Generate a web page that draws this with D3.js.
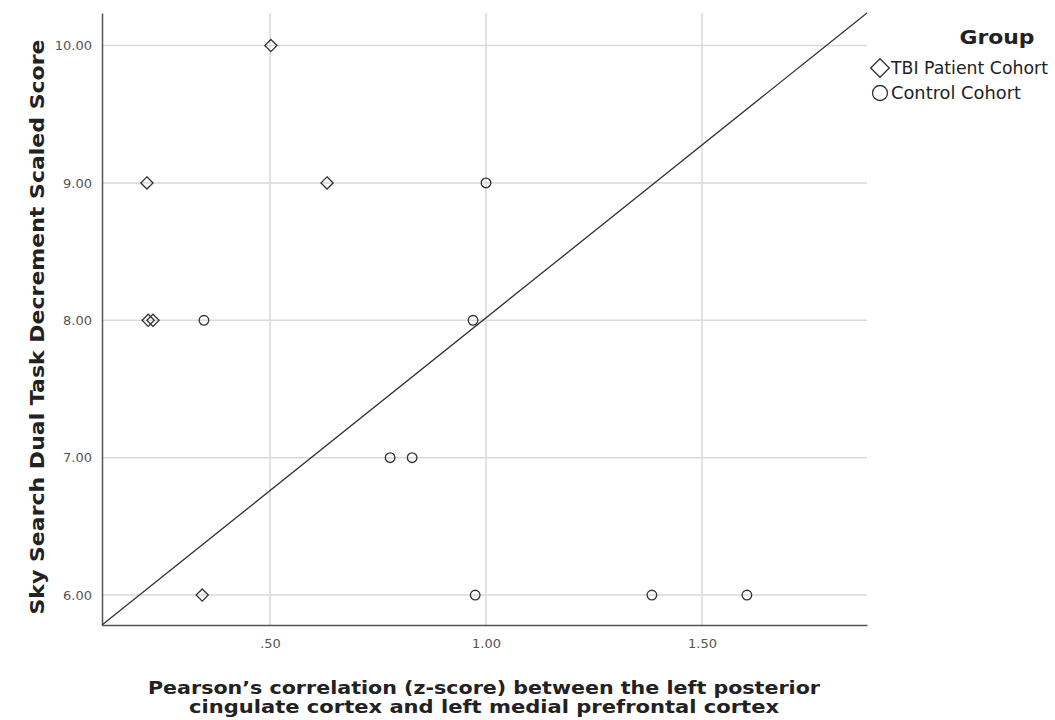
<!DOCTYPE html>
<html>
<head>
<meta charset="utf-8">
<script src="https://cdn.jsdelivr.net/npm/d3@7"></script>
<style>
  body { margin: 0; background: #fff; }
  svg { font-family: "DejaVu Sans", sans-serif; }
</style>
</head>
<body>
<svg id="chart" width="1055" height="720"></svg>
<script>
// data
const tbi_x = [0.502, 0.215, 0.632, 0.218, 0.229, 0.343];
const tbi_y = [10, 9, 9, 8, 8, 6];
const control_x = [1.0, 0.347, 0.97, 0.778, 0.829, 0.975, 1.384, 1.604];
const control_y = [9, 8, 8, 7, 7, 6, 6, 6];
const x_ticks = [0.5, 1.0, 1.5];
const y_ticks = [6, 7, 8, 9, 10];
const groups = ["TBI Patient Cohort", "Control Cohort"];

const x_domain = [0.111, 1.882];
const y_domain = [5.782, 10.237];

function get_scales() {
    const x = d3.scaleLinear().domain(x_domain).range([102, 867]);
    const y = d3.scaleLinear().domain(y_domain).range([625, 13]);
    return [x, y];
}

function draw_grid(svg, x, y) {
    const g = svg.append("g");
    g.selectAll(".vgrid")
        .data(x_ticks)
        .enter().append("line")
        .attr("x1", d => x(d)).attr("x2", d => x(d))
        .attr("y1", y.range()[1]).attr("y2", y.range()[0])
        .attr("stroke", "#d9d9d9").attr("stroke-width", 1.5);
    g.selectAll(".hgrid")
        .data(y_ticks)
        .enter().append("line")
        .attr("x1", x.range()[0]).attr("x2", x.range()[1])
        .attr("y1", d => y(d)).attr("y2", d => y(d))
        .attr("stroke", "#d9d9d9").attr("stroke-width", 1.5);
}

function draw_axes(svg, x, y) {
    const xAxis = svg.append("g")
        .attr("transform", `translate(0,${y.range()[0]})`)
        .call(d3.axisBottom(x).tickValues(x_ticks).tickSize(0).tickPadding(14)
            .tickFormat(d => d3.format(".2f")(d).replace(/^0/, "")));
    const yAxis = svg.append("g")
        .attr("transform", `translate(${x.range()[0]},0)`)
        .call(d3.axisLeft(y).tickValues(y_ticks).tickSize(0).tickPadding(10)
            .tickFormat(d3.format(".2f")));
    [xAxis, yAxis].forEach(a => {
        a.select(".domain").attr("stroke", "#555").attr("stroke-width", 1.5);
        a.selectAll("text")
            .attr("fill", "#555")
            .style("font-size", "13px")
            .style("font-family", "'DejaVu Sans', sans-serif");
    });
}

function draw_points(svg, x, y) {
    const diamond = d3.symbol().type(d3.symbolDiamond2).size(95);
    svg.append("g")
        .selectAll("path")
        .data(tbi_x.map((v, i) => [v, tbi_y[i]]))
        .enter().append("path")
        .attr("d", diamond)
        .attr("transform", d => `translate(${x(d[0])},${y(d[1])})`)
        .attr("fill", "none")
        .attr("stroke", "#333")
        .attr("stroke-width", 1.3);

    svg.append("g")
        .selectAll("circle")
        .data(control_x.map((v, i) => [v, control_y[i]]))
        .enter().append("circle")
        .attr("cx", d => x(d[0]))
        .attr("cy", d => y(d[1]))
        .attr("r", 4.8)
        .attr("fill", "none")
        .attr("stroke", "#333")
        .attr("stroke-width", 1.3);
}

function draw_reference_line(svg, x, y) {
    svg.append("line")
        .attr("x1", x(x_domain[0])).attr("y1", y(y_domain[0]))
        .attr("x2", x(x_domain[1])).attr("y2", y(y_domain[1]))
        .attr("stroke", "#333")
        .attr("stroke-width", 1.3);
}

function draw_titles(svg) {
    svg.append("text")
        .attr("transform", "translate(44,327) rotate(-90)")
        .attr("text-anchor", "middle")
        .attr("textLength", 575)
        .attr("lengthAdjust", "spacingAndGlyphs")
        .style("font-size", "19px")
        .style("font-weight", "bold")
        .attr("fill", "#222")
        .text("Sky Search Dual Task Decrement Scaled Score");

    const lines = [
        "Pearson\u2019s correlation (z-score) between the left posterior",
        "cingulate cortex and left medial prefrontal cortex"
    ];
    svg.selectAll(".xtitle")
        .data(lines)
        .enter().append("text")
        .attr("class", "xtitle")
        .attr("x", 484)
        .attr("y", (d, i) => 694 + i * 19)
        .attr("text-anchor", "middle")
        .attr("textLength", (d, i) => [672, 590][i])
        .attr("lengthAdjust", "spacingAndGlyphs")
        .style("font-size", "17px")
        .style("font-weight", "bold")
        .attr("fill", "#222")
        .text(d => d);
}

function draw_legend(svg) {
    svg.append("text")
        .attr("x", 997).attr("y", 44)
        .attr("text-anchor", "middle")
        .attr("textLength", 75)
        .attr("lengthAdjust", "spacingAndGlyphs")
        .style("font-size", "20px")
        .style("font-weight", "bold")
        .attr("fill", "#222")
        .text("Group");

    const g = svg.append("g");
    g.append("path")
        .attr("d", d3.symbol().type(d3.symbolDiamond2).size(220))
        .attr("transform", "translate(880,68)")
        .attr("fill", "none").attr("stroke", "#333").attr("stroke-width", 1.3);
    g.append("circle")
        .attr("cx", 880).attr("cy", 93).attr("r", 7.5)
        .attr("fill", "none").attr("stroke", "#333").attr("stroke-width", 1.3);

    g.selectAll("text")
        .data(groups)
        .enter().append("text")
        .attr("x", 891)
        .attr("y", (d, i) => 74 + i * 25)
        .attr("textLength", (d, i) => [157, 130][i])
        .attr("lengthAdjust", "spacingAndGlyphs")
        .style("font-size", "17px")
        .attr("fill", "#222")
        .text(d => d);
}

function generate_chart() {
    const svg = d3.select("#chart");
    const [x, y] = get_scales();
    draw_grid(svg, x, y);
    draw_axes(svg, x, y);
    draw_reference_line(svg, x, y);
    draw_points(svg, x, y);
    draw_titles(svg);
    draw_legend(svg);
}

generate_chart();
</script>
</body>
</html>
